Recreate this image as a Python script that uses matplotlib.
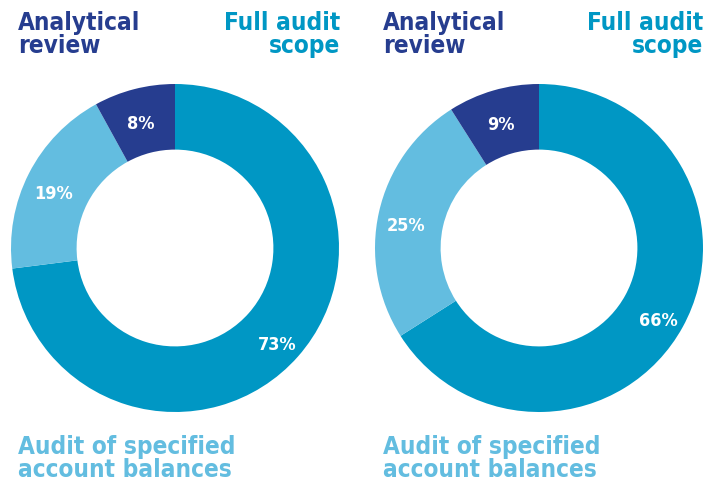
import matplotlib
matplotlib.use("Agg")
import matplotlib.pyplot as plt

# shares per chart, clockwise from 12 o'clock
categories = ["Full audit scope", "Audit of specified account balances", "Analytical review"]
left_values = [73, 19, 8]
right_values = [66, 25, 9]

colors = ["#0097c4", "#63bde0", "#263d8f"]
font = ["Liberation Sans Narrow", "DejaVu Sans"]

W, H = 705, 484
fig = plt.figure(figsize=(W / 100, H / 100), dpi=100)
fig.patch.set_facecolor("white")

R = 164  # outer radius in px


def donut(cx, cy, values):
    ax = fig.add_axes([(cx - R) / W, (H - cy - R) / H, 2 * R / W, 2 * R / H])
    wedges, texts, autotexts = ax.pie(
        values, colors=colors, startangle=90, counterclock=False,
        radius=1, wedgeprops=dict(width=0.4, linewidth=0),
        autopct=lambda p: f"{round(p)}%", pctdistance=0.83,
        textprops=dict(color="white", fontsize=13, fontweight="bold",
                       family=font, fontstretch="condensed"),
    )
    # labels sit a little low in the original
    for t in autotexts:
        x, y = t.get_position()
        t.set_position((x, y - 0.045))
    ax.set_xlim(-1, 1)
    ax.set_ylim(-1, 1)
    ax.set_aspect("equal")
    ax.axis("off")


donut(175, 248, left_values)
donut(539, 248, right_values)

title_kw = dict(fontsize=17.5, fontweight="bold", family=font,
                fontstretch="condensed", linespacing=0.95)
for x0, x1 in [(18, 340), (383, 703)]:
    fig.text(x0 / W, 1 - 11 / H, "Analytical\nreview", color=colors[2],
             ha="left", va="top", **title_kw)
    fig.text(x1 / W, 1 - 11 / H, "Full audit\nscope", color=colors[0],
             ha="right", va="top", **title_kw)
    fig.text(x0 / W, 1 - 435 / H, "Audit of specified\naccount balances",
             color=colors[1], ha="left", va="top", **title_kw)

fig.savefig("out.png", dpi=100, facecolor="white")
